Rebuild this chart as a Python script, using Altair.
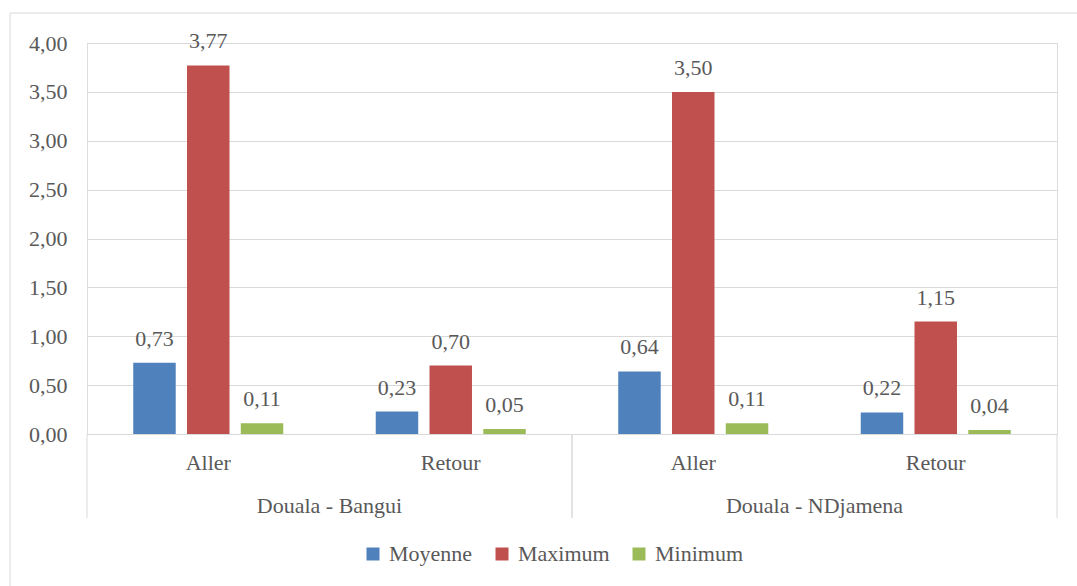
import altair as alt
import pandas as pd

# Category levels
routes = ["Douala - Bangui", "Douala - Bangui", "Douala - NDjamena", "Douala - NDjamena"]
directions = ["Aller", "Retour", "Aller", "Retour"]

# Series values (one per route/direction pair)
moyenne = [0.73, 0.23, 0.64, 0.22]
maximum = [3.77, 0.70, 3.50, 1.15]
minimum = [0.11, 0.05, 0.11, 0.04]

series = ["Moyenne", "Maximum", "Minimum"]
colors = ["#4F81BD", "#C0504D", "#9BBB59"]
y_ticks = [0.0, 0.5, 1.0, 1.5, 2.0, 2.5, 3.0, 3.5, 4.0]

rows = []
for r, d, a, b, c in zip(routes, directions, moyenne, maximum, minimum):
    for s, v in zip(series, (a, b, c)):
        rows.append({"route": r, "dir": d, "key": f"{r}|{d}", "series": s, "value": v})
df = pd.DataFrame(rows)
keys = [f"{r}|{d}" for r, d in zip(routes, directions)]

FONT = "Liberation Serif"
TXT = "#595959"
GRID = "#d9d9d9"
W, H = 970, 391

x_scale = alt.Scale(domain=keys, paddingInner=0, paddingOuter=0)
x_axis = alt.Axis(
    title=None,
    labelExpr="split(datum.label, '|')[1]",
    labelAngle=0,
    labelFont=FONT,
    labelFontSize=22,
    labelColor=TXT,
    labelBaseline="alphabetic",
    labelPadding=35,
    ticks=False,
    tickSize=0,
    domainColor=GRID,
    domainWidth=1,
    grid=False,
)

def xenc(band=0.5):
    return alt.X("key:N", sort=keys, scale=x_scale, axis=x_axis, bandPosition=band)

xoff = alt.XOffset("series:N", sort=series,
                   scale=alt.Scale(domain=series, paddingInner=0.21, paddingOuter=0.86))
yenc = alt.Y(
    "value:Q",
    scale=alt.Scale(domain=[0, 4], nice=False),
    axis=alt.Axis(
        title=None,
        values=y_ticks,
        labelExpr="replace(format(datum.value, '.2f'), '.', ',')",
        labelFont=FONT,
        labelFontSize=22,
        labelColor=TXT,
        labelPadding=20,
        ticks=False,
        domain=False,
        gridColor=GRID,
        gridWidth=1,
    ),
)

base = alt.Chart(df)

bars = base.mark_bar().encode(
    x=xenc(),
    xOffset=xoff,
    y=yenc,
    color=alt.Color(
        "series:N",
        sort=series,
        scale=alt.Scale(domain=series, range=colors),
        legend=alt.Legend(
            title=None,
            orient="none",
            legendX=275,
            legendY=500,
            direction="horizontal",
            symbolType="square",
            symbolSize=169,
            symbolStrokeWidth=0,
            labelFont=FONT,
            labelFontSize=22,
            labelColor=TXT,
            labelOffset=5,
            columnPadding=18,
            padding=0,
        ),
    ),
)

values = base.transform_calculate(
    label="replace(format(datum.value, '.2f'), '.', ',')"
).mark_text(
    font=FONT, fontSize=22, color=TXT, baseline="alphabetic", dy=-17
).encode(x=xenc(), xOffset=xoff, y="value:Q", text="label:N")

firsts = base.transform_filter("datum.series == 'Moyenne' && datum.dir == 'Aller'")
lasts = base.transform_filter("datum.series == 'Moyenne' && datum.dir == 'Retour'")

group_labels = firsts.mark_text(
    font=FONT, fontSize=22, color=TXT, baseline="alphabetic"
).encode(x=xenc(1), y=alt.value(470), text="route:N")

sep_start = firsts.mark_rule(color=GRID, strokeWidth=1).encode(
    x=xenc(0), y=alt.value(H), y2=alt.value(H + 84)
)
sep_end = lasts.mark_rule(color=GRID, strokeWidth=1).encode(
    x=xenc(1), y=alt.value(H), y2=alt.value(H + 84)
)

frame = alt.Chart(pd.DataFrame({"frame": [0]})).mark_rect(
    filled=False, stroke=GRID, strokeWidth=1
).encode(x=alt.value(-77), x2=alt.value(1010), y=alt.value(-30), y2=alt.value(570))

chart = (
    alt.layer(frame, bars, values, group_labels, sep_start, sep_end)
    .properties(
        width=W,
        height=H,
        autosize=alt.AutoSizeParams(type="none"),
        padding={"left": 87, "top": 43, "right": 20, "bottom": 152},
        background="white",
    )
    .configure_view(strokeWidth=0)
    .configure_legend(labelFont=FONT, labelFontSize=22, labelColor=TXT)
    .configure(font=FONT)
)

chart.save("out.html", embed_options={"renderer": "svg", "actions": False})
